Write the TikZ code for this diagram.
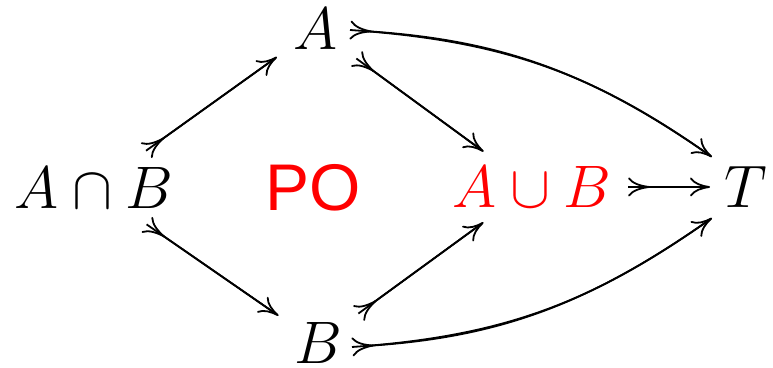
\RequirePackage{fix-cm}
\documentclass[tikz,border=0pt]{standalone}
\usepackage{fontspec}
\newfontfamily\pofont{Liberation Sans}
\usetikzlibrary{arrows.meta}
\definecolor{pored}{RGB}{255,0,0}
\tikzset{
  obj/.style={inner sep=0pt, font=\fontsize{30}{36}\selectfont},
  mono/.style 2 args={line width=0.9pt, shorten <=#1, shorten >=#2,
    {Computer Modern Rightarrow[reversed,length=11pt,width=9.5pt]}-{Computer Modern Rightarrow[length=10pt,width=9.5pt]},
    postaction={draw, arrows=-, shorten <=#1, shorten >=#2+4pt}},
}
\begin{document}
\begin{tikzpicture}[x=0.5pt,y=0.5pt]
\useasboundingbox (0,0) rectangle (773,368);
\node[obj] (AB) at (94,180) {$A\cap B$};
\node[obj] (A) at (316,339) {$A$};
\node[obj] (B) at (318,25) {$B$};
\node[obj, text=pored, font=\pofont\fontsize{33}{40}\selectfont] (PO) at (313,180) {PO};
\node[obj, text=pored] (AuB) at (532,181) {$A\cup B$};
\node[obj] (T) at (746,181) {$T$};
\draw[mono={32pt}{24pt}] (AB.center) -- (A.center);
\draw[mono={32pt}{24pt}] (AB.center) -- (B.center);
\draw[mono={25pt}{30pt}] (A.center) -- (AuB.center);
\draw[mono={25pt}{30pt}] (B.center) -- (AuB.center);
\draw[mono={48pt}{18pt}] (AuB.center) -- (T.center);
\draw[mono={0pt}{0pt}] ([xshift=17pt,yshift=-0.5pt]A.center) to[out=-4,in=145] ([xshift=-17pt,yshift=15pt]T.center);
\draw[mono={0pt}{0pt}] ([xshift=17pt,yshift=-2pt]B.center) to[out=4,in=-145] ([xshift=-17pt,yshift=-15.5pt]T.center);
\end{tikzpicture}
\end{document}
